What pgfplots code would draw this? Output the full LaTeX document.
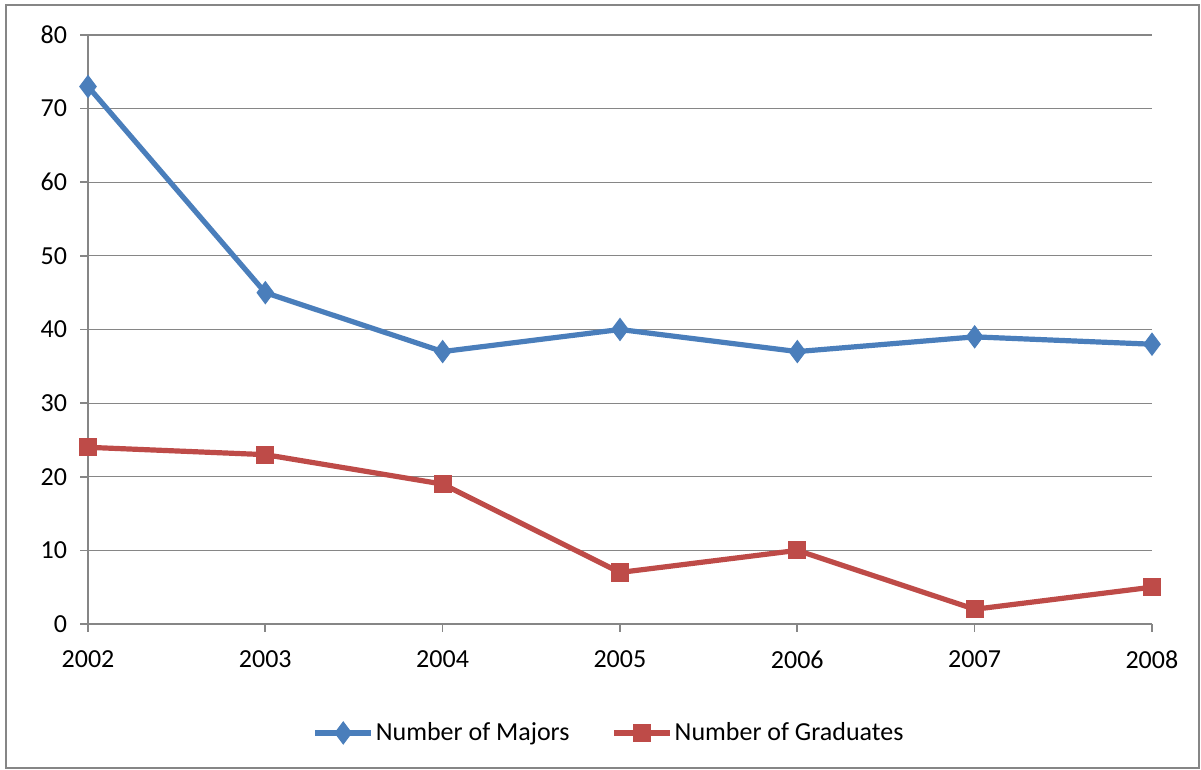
\documentclass[border=0pt]{standalone}
\usepackage{pgfplots}
\pgfplotsset{compat=1.18}
\usepackage{fontspec}
\setmainfont{Carlito}
\definecolor{majblue}{HTML}{4A7EBB}
\definecolor{gradred}{HTML}{BE4B48}
\definecolor{gridgray}{HTML}{868686}
\begin{document}
\begin{tikzpicture}[x=1pt,y=1pt]
\useasboundingbox (0,0) rectangle (600.5,385);
\draw[gridgray,line width=1.2pt] (3,1) rectangle (599.5,382.5);
\begin{axis}[
  at={(44pt,73pt)}, anchor=origin,
  scale only axis, width=532pt, height=294.5pt,
  xmin=2002, xmax=2008, ymin=0, ymax=80,
  xtick={2002,...,2008}, ytick={0,10,...,80},
  axis lines=left, axis line style={gridgray, line width=0.8pt, -},
  x axis line style={-}, y axis line style={-},
  tick style={gridgray, line width=0.8pt}, tick align=outside,
  major tick length=4pt,
  ymajorgrids, grid style={gridgray, line width=0.6pt},
  xticklabel style={/pgf/number format/1000 sep={}, yshift=-6pt},
  yticklabel style={xshift=-3pt},
  /pgf/number format/assume math mode=true,
  tick label style={font=\fontsize{13}{15}\selectfont, black},
  clip=false,
  legend style={draw=none, fill=none, at={(0.4897,-0.185)}, anchor=center,
    font=\fontsize{13}{15}\selectfont, column sep=0pt,
    nodes={inner xsep=1pt},
    /tikz/every even column/.append style={column sep=20pt}},
  legend columns=2,
  legend cell align=left,
  legend image code/.code={\draw[mark repeat=2,mark phase=2] plot coordinates {(0pt,0pt)(14pt,0pt)(28pt,0pt)};},
]
\addplot[majblue, line width=2.6pt, mark=diamond*, mark size=5.5pt, mark options={solid, fill=majblue, line width=0.5pt}]
  coordinates {(2002,73) (2003,45) (2004,37) (2005,40) (2006,37) (2007,39) (2008,38)};
\addlegendentry{Number of Majors}
\addplot[gradred, line width=2.6pt, mark=square*, mark size=4.3pt, mark options={solid, fill=gradred, line width=0.5pt}]
  coordinates {(2002,24) (2003,23) (2004,19) (2005,7) (2006,10) (2007,2) (2008,5)};
\addlegendentry{Number of Graduates}
\end{axis}
\end{tikzpicture}
\end{document}
